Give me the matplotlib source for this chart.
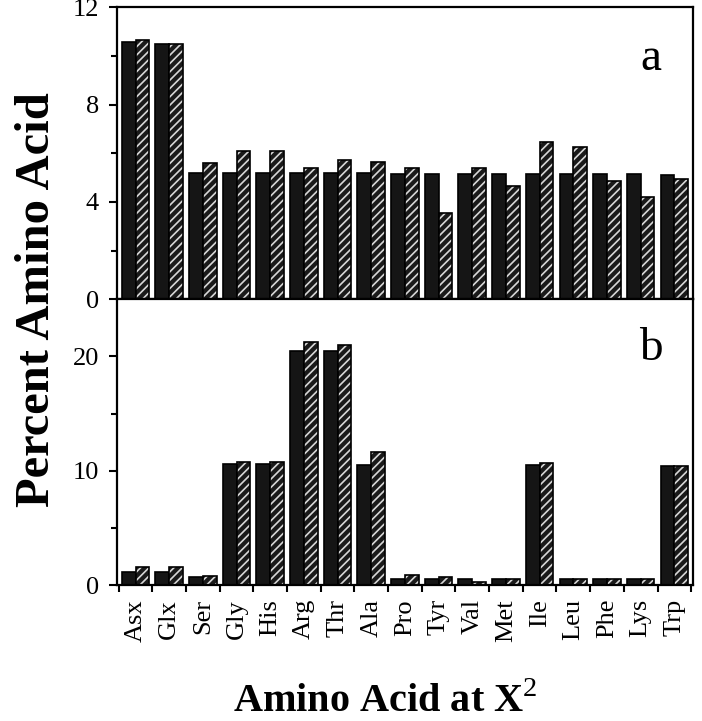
import numpy as np
import matplotlib
matplotlib.use("Agg")
import matplotlib.pyplot as plt

plt.rcParams.update({
    "font.family": ["Liberation Serif", "DejaVu Serif"],
    "mathtext.fontset": "custom",
    "mathtext.rm": "Liberation Serif",
    "mathtext.bf": "Liberation Serif:bold",
    "hatch.linewidth": 1.2,
    "axes.linewidth": 1.6,
})

amino_acids = ["Asx", "Glx", "Ser", "Gly", "His", "Arg", "Thr", "Ala", "Pro",
               "Tyr", "Val", "Met", "Ile", "Leu", "Phe", "Lys", "Trp"]

# panel a
a_solid = [10.55, 10.5, 5.2, 5.2, 5.2, 5.2, 5.2, 5.2, 5.16, 5.16, 5.16, 5.16,
           5.16, 5.16, 5.16, 5.16, 5.12]
a_hatched = [10.67, 10.5, 5.6, 6.08, 6.08, 5.4, 5.74, 5.63, 5.4, 3.54, 5.38,
             4.65, 6.45, 6.26, 4.86, 4.2, 4.93]

# panel b
b_solid = [1.15, 1.15, 0.67, 10.6, 10.6, 20.5, 20.5, 10.5, 0.55, 0.5, 0.5, 0.5,
           10.5, 0.5, 0.5, 0.5, 10.45]
b_hatched = [1.55, 1.55, 0.82, 10.8, 10.8, 21.25, 21.0, 11.6, 0.88, 0.73, 0.3,
             0.5, 10.7, 0.5, 0.5, 0.5, 10.45]

x = np.arange(len(amino_acids))
w = 0.41


def draw_panel(ax, solid, hatched, ymax, majors, minors, tag):
    ax.bar(x - w / 2, solid, w, color="#151515", edgecolor="black", linewidth=1.2)
    ax.bar(x + w / 2, hatched, w, color="#1a1a1a", edgecolor="#d8d8d8",
           hatch="////", linewidth=0)
    ax.bar(x + w / 2, hatched, w, fill=False, edgecolor="black", linewidth=1.2)
    ax.set_xlim(-0.55, len(x) - 0.45)
    ax.set_ylim(0, ymax)
    ax.set_yticks(majors)
    ax.set_yticks(minors, minor=True)
    ax.tick_params(axis="y", which="major", length=6, width=1.5, labelsize=19, pad=7)
    ax.tick_params(axis="y", which="minor", length=4, width=1.5)
    ax.set_xticks(np.arange(len(x) + 1) - 0.5, minor=True)
    ax.tick_params(axis="x", which="minor", length=5, width=1.5, direction="out")
    ax.text(0.927, 0.786, tag, transform=ax.transAxes, fontsize=34,
            ha="center", va="baseline")


fig = plt.figure(figsize=(7.02, 7.21), dpi=100)
ax_a = fig.add_axes([0.1667, 0.585, 0.8203, 0.405])
ax_b = fig.add_axes([0.1667, 0.1886, 0.8203, 0.3964])

draw_panel(ax_a, a_solid, a_hatched, 12, [0, 4, 8, 12], [2, 6, 10], "a")
draw_panel(ax_b, b_solid, b_hatched, 25, [0, 10, 20], [5, 15], "b")

ax_a.set_xticks([])
ax_a.set_xticks(np.arange(len(x) + 1) - 0.5, minor=True)
ax_b.set_xticks(x, amino_acids, rotation=90, fontsize=19)
ax_b.tick_params(axis="x", which="major", length=0, pad=10)

fig.text(0.052, 0.584, "Percent Amino Acid", rotation=90, fontsize=35,
         fontweight="bold", ha="center", va="center")
fig.text(0.549, 0.013, r"Amino Acid at X$^{\mathrm{2}}$", fontsize=29,
         fontweight="bold", ha="center", va="baseline")

fig.savefig("out.png", dpi=100)
